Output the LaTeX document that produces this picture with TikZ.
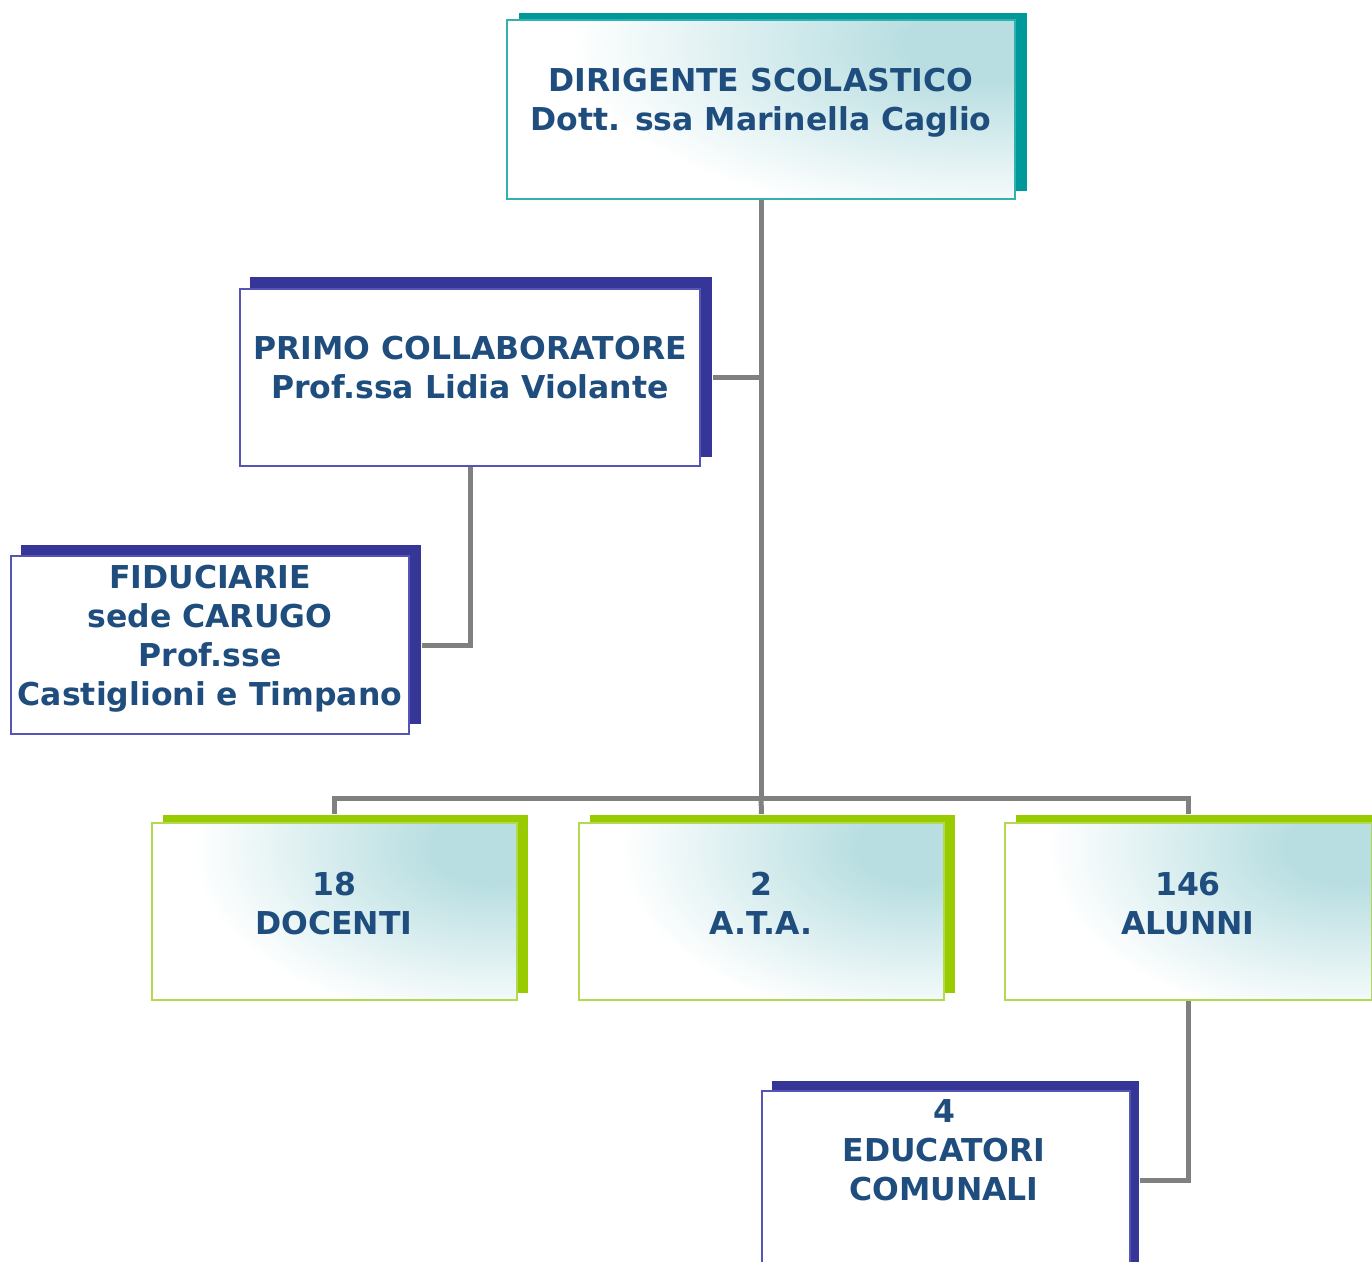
\documentclass[tikz,border=0pt]{standalone}
\usepackage{fontspec}
\setmainfont{DejaVu Sans}
\definecolor{txt}{HTML}{1F4E7E}
\definecolor{lnk}{HTML}{808080}
\definecolor{tealS}{HTML}{009999}
\definecolor{tealB}{HTML}{33B0B0}
\definecolor{tealL}{HTML}{B8DEE1}
\definecolor{blueS}{HTML}{363699}
\definecolor{blueB}{HTML}{5555B5}
\definecolor{greenS}{HTML}{99CC00}
\definecolor{greenB}{HTML}{B2D94F}
\pgfdeclareradialshading{cornerglow}{\pgfpoint{0bp}{0bp}}{%
  color(0bp)=(tealL); color(2.5bp)=(tealL); color(7bp)=(tealL!55!white);
  color(12.5bp)=(white); color(50bp)=(white)}
\begin{document}
\begin{tikzpicture}[x=1pt,y=-1pt,
  box/.style={rectangle, inner sep=0pt, line width=1.8pt, fill=white},
  grad/.style={path picture={\path[shading=cornerglow]
     ([shift={(-25-2*#1,25-350)}]path picture bounding box.north east) rectangle
     ([shift={(-25+2*#1,25+350)}]path picture bounding box.north east);}},
  lbl/.style={text=txt, font=\fontsize{31.5}{39}\selectfont\bfseries, align=center, anchor=base, inner sep=0pt},
  link/.style={draw=lnk, line width=5pt}]
\useasboundingbox (0,0) rectangle (1372,1261);
% shadows
\fill[tealS]  (519,13) rectangle (1027,191);
\fill[blueS]  (250,277) rectangle (712,457);
\fill[blueS]  (21,545) rectangle (421,724);
\fill[greenS] (163,815) rectangle (528,993);
\fill[greenS] (590,815) rectangle (955,993);
\fill[greenS] (1016,815) rectangle (1380,993);
\fill[blueS]  (772,1081) rectangle (1139,1270);
% boxes
\node[box, draw=tealB, grad=420, minimum width=508pt, minimum height=179pt] (dir) at (761,109.5) {};
\node[box, draw=blueB, minimum width=460pt, minimum height=177pt] (primo) at (470,377.5) {};
\node[box, draw=blueB, minimum width=398pt, minimum height=178pt] (fid) at (210,645) {};
\node[box, draw=greenB, grad=300, minimum width=365pt, minimum height=177pt] (doc) at (334.5,911.5) {};
\node[box, draw=greenB, grad=300, minimum width=365pt, minimum height=177pt] (ata) at (761.5,911.5) {};
\node[box, draw=greenB, grad=300, minimum width=367pt, minimum height=177pt] (alu) at (1188.5,911.5) {};
\node[box, draw=blueB, minimum width=368pt, minimum height=190pt] (edu) at (946,1186) {};
% connectors
\coordinate (bus) at (761,798);
\draw[link] (dir.south) -- (bus);
\draw[link] (primo.east |- 0,377) ++(12,0) -- (761,377);
\draw[link] (doc.north) ++(0,-8) |- (bus) -| ([yshift=8pt]alu.north);
\draw[link] (bus) -- ([yshift=8pt]ata.north);
\draw[link] (primo.south) |- ([xshift=12pt]fid.east |- 0,645);
\draw[link] (alu.south) |- ([xshift=9pt]edu.east |- 0,1180);
% texts
\node[lbl] (t1) at (761,130) {DIRIGENTE SCOLASTICO\\Dott. ssa Marinella Caglio};
\node[lbl] (t2) at (470,398) {PRIMO COLLABORATORE\\Prof.ssa Lidia Violante};
\node[lbl] (t3) at (210,705) {FIDUCIARIE\\sede CARUGO\\Prof.sse\\Castiglioni e Timpano};
\node[lbl] (t4) at (334,934) {18\\DOCENTI};
\node[lbl] (t5) at (761,934) {2\\A.T.A.};
\node[lbl] (t6) at (1188,934) {146\\ALUNNI};
\node[lbl] (t7) at (944,1200) {4\\EDUCATORI\\COMUNALI};
\end{tikzpicture}
\end{document}
